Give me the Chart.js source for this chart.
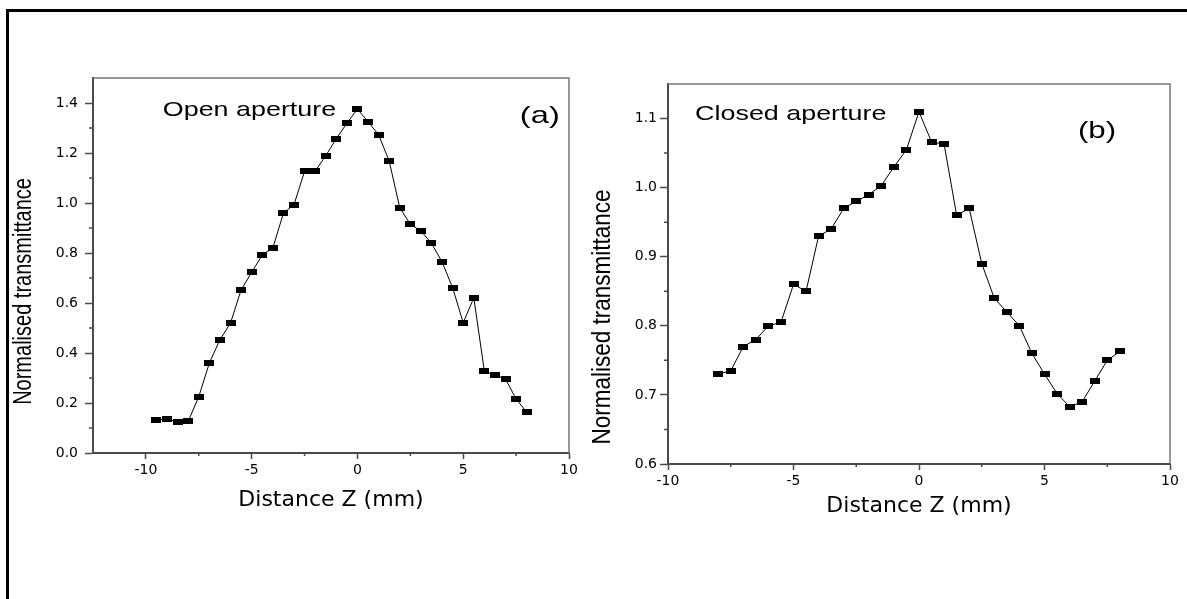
<!DOCTYPE html>
<html>
<head>
<meta charset="utf-8">
<script src="https://cdn.jsdelivr.net/npm/chart.js@4.4.1/dist/chart.umd.min.js"></script>
<style>
  html, body { margin: 0; padding: 0; background: #fff; }
  body { width: 1187px; height: 599px; position: relative; overflow: hidden; }
  #frame { position: absolute; left: 6px; top: 9px; width: 1200px; height: 600px;
           border-top: 3px solid #000; border-left: 3px solid #000; }
  #chartA { position: absolute; left: 0; top: 0; }
  #chartB { position: absolute; left: 590px; top: 0; }
</style>
</head>
<body>
<div id="frame"></div>
<canvas id="chartA" width="590" height="530"></canvas>
<canvas id="chartB" width="597" height="540"></canvas>
<script>
// (a) open aperture
const zA = [-9.5, -9, -8.5, -8, -7.5, -7, -6.5, -6, -5.5, -5, -4.5, -4, -3.5, -3, -2.5, -2, -1.5, -1,
            -0.5, 0, 0.5, 1, 1.5, 2, 2.5, 3, 3.5, 4, 4.5, 5, 5.5, 6, 6.5, 7, 7.5, 8];
const tA = [0.132, 0.136, 0.125, 0.127, 0.225, 0.360, 0.453, 0.520, 0.652, 0.723, 0.792, 0.820,
            0.959, 0.993, 1.127, 1.127, 1.189, 1.257, 1.319, 1.376, 1.325, 1.273, 1.168, 0.981,
            0.915, 0.888, 0.839, 0.764, 0.661, 0.521, 0.621, 0.327, 0.312, 0.295, 0.216, 0.163];

// (b) closed aperture
const zB = [-8, -7.5, -7, -6.5, -6, -5.5, -5, -4.5, -4, -3.5, -3, -2.5, -2, -1.5, -1, -0.5, 0,
            0.5, 1, 1.5, 2, 2.5, 3, 3.5, 4, 4.5, 5, 5.5, 6, 6.5, 7, 7.5, 8];
const tB = [0.730, 0.735, 0.770, 0.780, 0.800, 0.805, 0.860, 0.850, 0.930, 0.940, 0.970, 0.980,
            0.990, 1.003, 1.030, 1.055, 1.110, 1.066, 1.063, 0.960, 0.970, 0.890, 0.840, 0.820,
            0.800, 0.760, 0.730, 0.702, 0.683, 0.690, 0.720, 0.750, 0.763];

// tick values
const xTicksA = [-10, -5, 0, 5, 10];
const xMinorA = [-7.5, -2.5, 2.5, 7.5];
const yTicksA = [0, 0.2, 0.4, 0.6, 0.8, 1.0, 1.2, 1.4];
const yMinorA = [0.1, 0.3, 0.5, 0.7, 0.9, 1.1, 1.3];
const xTicksB = [-10, -5, 0, 5, 10];
const xMinorB = [-7.5, -2.5, 2.5, 7.5];
const yTicksB = [0.6, 0.7, 0.8, 0.9, 1.0, 1.1];
const yMinorB = [0.65, 0.75, 0.85, 0.95, 1.05];

const xTitle = 'Distance Z (mm)';
const yTitle = 'Normalised transmittance';

Chart.defaults.font.family = '"DejaVu Sans", sans-serif';
Chart.defaults.color = '#000';

// filled rectangle used as the marker
const mark = document.createElement('canvas');
mark.width = 10; mark.height = 6;
const mctx = mark.getContext('2d');
mctx.fillStyle = '#000';
mctx.fillRect(0, 0, 10, 6);

const axisColor = '#4a4a4a';

// box edges, minor ticks, rotated y title and in-plot labels
const extras = {
  id: 'extras',
  afterDraw(chart, args, opts) {
    const { ctx, chartArea: a } = chart;
    const x = chart.scales.x, y = chart.scales.y;
    ctx.save();
    ctx.strokeStyle = '#777';
    ctx.lineWidth = 1.5;
    ctx.beginPath();
    ctx.moveTo(a.left, a.top);
    ctx.lineTo(a.right, a.top);
    ctx.lineTo(a.right, a.bottom);
    ctx.stroke();

    ctx.strokeStyle = axisColor;
    ctx.lineWidth = 1.5;
    ctx.beginPath();
    opts.minorX.forEach(v => {
      const px = x.getPixelForValue(v);
      ctx.moveTo(px, a.bottom);
      ctx.lineTo(px, a.bottom + 3);
    });
    opts.minorY.forEach(v => {
      const py = y.getPixelForValue(v);
      ctx.moveTo(a.left, py);
      ctx.lineTo(a.left - 4, py);
    });
    ctx.stroke();

    ctx.fillStyle = '#000';
    ctx.textBaseline = 'middle';
    opts.notes.forEach(n => {
      ctx.save();
      ctx.translate(x.getPixelForValue(n.x), y.getPixelForValue(n.y));
      ctx.scale(n.stretch, 1);
      ctx.font = n.size + 'px "Liberation Sans", Arial, sans-serif';
      ctx.textAlign = n.align;
      ctx.fillText(n.text, 0, 0);
      ctx.restore();
    });

    const t = opts.yTitle;
    ctx.save();
    ctx.translate(a.left + t.dx, (a.top + a.bottom) / 2 + t.dy);
    ctx.rotate(-Math.PI / 2);
    ctx.scale(1, t.stretch);
    ctx.font = t.size + 'px "Liberation Sans", Arial, sans-serif';
    ctx.textAlign = 'center';
    ctx.fillText(t.text, 0, 0);
    ctx.restore();
    ctx.restore();
  }
};

function makeChart(id, z, t, cfg) {
  return new Chart(document.getElementById(id), {
    type: 'scatter',
    data: {
      datasets: [{
        data: z.map((v, i) => ({ x: v, y: t[i] })),
        showLine: true,
        borderColor: '#000',
        borderWidth: 1,
        pointStyle: mark,
        pointRadius: 5,
        pointHoverRadius: 5
      }]
    },
    options: {
      responsive: false,
      animation: false,
      events: [],
      layout: { padding: cfg.padding },
      plugins: {
        legend: { display: false },
        tooltip: { enabled: false },
        extras: cfg.extras
      },
      scales: {
        x: {
          type: 'linear',
          min: cfg.xMin, max: cfg.xMax,
          afterBuildTicks: s => { s.ticks = cfg.xTicks.map(v => ({ value: v })); },
          afterFit: s => { s.height = 62; },
          border: { display: true, color: axisColor, width: 2 },
          grid: { drawOnChartArea: false, drawTicks: true, tickLength: 6,
                  tickColor: axisColor, tickWidth: 1.5 },
          ticks: { font: { size: 14 }, padding: 3, maxRotation: 0,
                   callback: v => String(v) },
          title: { display: true, text: xTitle, font: { size: 22 },
                   padding: { top: 0, bottom: cfg.xTitlePad } }
        },
        y: {
          type: 'linear',
          min: cfg.yMin, max: cfg.yMax,
          afterBuildTicks: s => { s.ticks = cfg.yTicks.map(v => ({ value: v })); },
          afterFit: s => { s.width = cfg.yWidth; },
          border: { display: true, color: axisColor, width: 2 },
          grid: { drawOnChartArea: false, drawTicks: true, tickLength: 8,
                  tickColor: axisColor, tickWidth: 1.5 },
          ticks: { font: { size: 14 }, padding: cfg.yTickPad,
                   callback: v => Number(v).toFixed(1) }
        }
      }
    },
    plugins: [extras]
  });
}

makeChart('chartA', zA, tA, {
  padding: { top: 78, left: 0, right: 21, bottom: 15 },
  xMin: -12.5, xMax: 10, yMin: 0, yMax: 1.5,
  xTicks: xTicksA, yTicks: yTicksA,
  yWidth: 93, yTickPad: 7, xTitlePad: 2,
  extras: {
    minorX: xMinorA, minorY: yMinorA,
    yTitle: { text: yTitle, dx: -69, dy: 26, size: 20, stretch: 1.28 },
    notes: [
      { text: 'Open aperture', x: -9.2, y: 1.372, size: 21, stretch: 1.28, align: 'left' },
      { text: '(a)', x: 8.62, y: 1.345, size: 24, stretch: 1.36, align: 'center' }
    ]
  }
});

makeChart('chartB', zB, tB, {
  padding: { top: 84, left: 0, right: 17, bottom: 14 },
  xMin: -10, xMax: 10, yMin: 0.6, yMax: 1.15,
  xTicks: xTicksB, yTicks: yTicksB,
  yWidth: 78, yTickPad: 3, xTitlePad: 7,
  extras: {
    minorX: xMinorB, minorY: yMinorB,
    yTitle: { text: yTitle, dx: -65.5, dy: 43, size: 22.5, stretch: 1.16 },
    notes: [
      { text: 'Closed aperture', x: -8.92, y: 1.107, size: 21, stretch: 1.28, align: 'left' },
      { text: '(b)', x: 7.09, y: 1.081, size: 24, stretch: 1.3, align: 'center' }
    ]
  }
});
</script>
</body>
</html>
